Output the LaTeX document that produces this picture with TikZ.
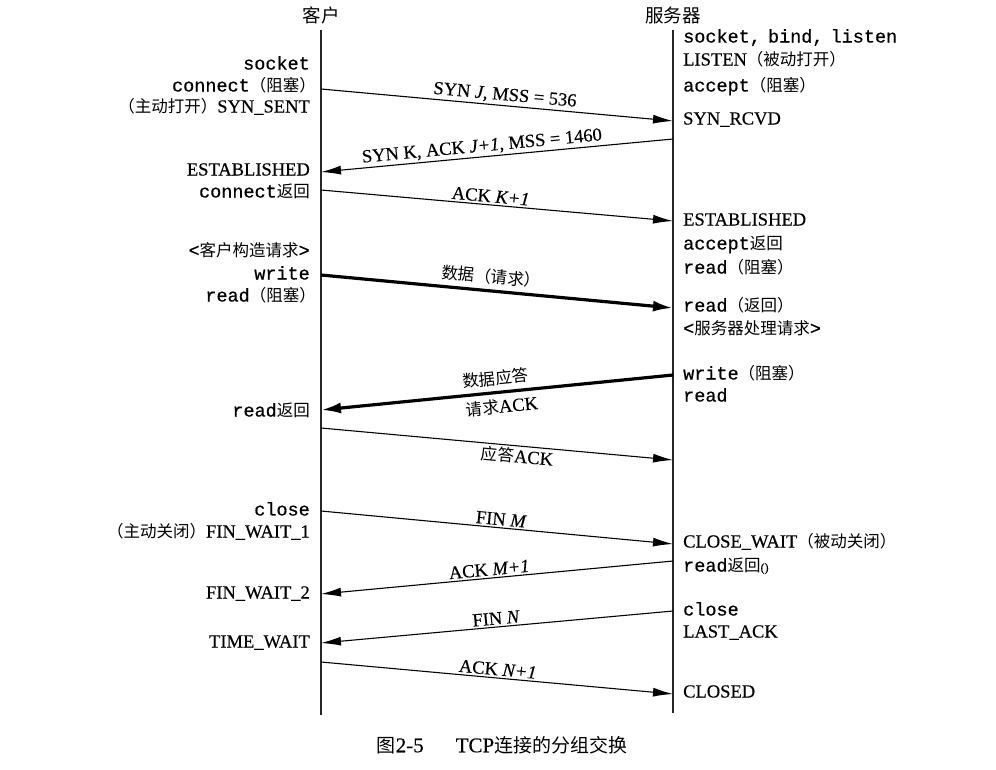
\documentclass[tikz,border=0pt]{standalone}
\usepackage{fontspec}
\setmainfont[FakeBold=0.4]{Liberation Serif}
\setmonofont[FakeBold=0.6]{Liberation Mono}
\newfontfamily\cjk{Noto Sans CJK SC}
\usetikzlibrary{arrows.meta}
\newcommand\zh[1]{{\cjk\fontsize{16.5}{20}\selectfont #1}}
\tikzset{
  lbl/.style={font=\fontsize{18.5}{22}\selectfont, inner sep=0pt, text height=13pt, text depth=4pt},
  cl/.style={lbl, anchor=east},
  sv/.style={lbl, anchor=west},
  msglbl/.style={font=\fontsize{18.5}{22}\selectfont, inner sep=2pt, sloped},
  msg/.style={line width=1.1pt, -{Latex[length=20pt,width=9pt]}},
  thickmsg/.style={line width=3.2pt, -{Latex[length=20pt,width=11pt]}},
  life/.style={line width=1.4pt, draw=black!85},
}
\begin{document}
\begin{tikzpicture}[x=1pt,y=-1pt]
\useasboundingbox (0,0) rectangle (996,769);
% headers
\node[lbl] (hc) at (321,18) {{\cjk\fontsize{18.5}{22}\selectfont 客户}};
\node[lbl] (hs) at (673,18) {{\cjk\fontsize{18.5}{22}\selectfont 服务器}};
% lifelines
\coordinate (ctop) at (321,30);
\coordinate (cbot) at (321,715);
\coordinate (stop) at (673,30);
\coordinate (sbot) at (673,713);
\draw[life] (ctop) -- (cbot);
\draw[life] (stop) -- (sbot);
% client labels
\node[cl] (l1) at (310,65) {\texttt{socket}};
\node[cl] (l2) at (316,87) {\texttt{connect}\zh{（阻塞）}};
\node[cl] (l3) at (310,108) {\zh{（主动打开）}SYN\_SENT};
\node[cl] (l4) at (310,171) {ESTABLISHED};
\node[cl] (l5) at (310,193) {\texttt{connect}\zh{返回}};
\node[cl] (l6) at (310,252) {\texttt{<}\zh{客户构造请求}\texttt{>}};
\node[cl] (l7) at (310,275) {\texttt{write}};
\node[cl] (l8) at (316,297) {\texttt{read}\zh{（阻塞）}};
\node[cl] (l9) at (310,412) {\texttt{read}\zh{返回}};
\node[cl] (l10) at (310,511) {\texttt{close}};
\node[cl] (l11) at (310,533) {\zh{（主动关闭）}FIN\_WAIT\_1};
\node[cl] (l12) at (310,594) {FIN\_WAIT\_2};
\node[cl] (l13) at (310,643) {TIME\_WAIT};
% server labels
\node[sv] (r1) at (683,38) {\texttt{socket,\hspace{-4pt} bind,\hspace{-4pt} listen}};
\node[sv] (r2) at (683,61) {LISTEN\zh{（被动打开）}};
\node[sv] (r3) at (683,87) {\texttt{accept}\zh{（阻塞）}};
\node[sv] (r4) at (683,120) {SYN\_RCVD};
\node[sv] (r5) at (683,221) {ESTABLISHED};
\node[sv] (r6) at (683,245) {\texttt{accept}\zh{返回}};
\node[sv] (r7) at (683,269) {\texttt{read}\zh{（阻塞）}};
\node[sv] (r8) at (683,307) {\texttt{read}\zh{（返回）}};
\node[sv] (r9) at (683,330) {\texttt{<}\zh{服务器处理请求}\texttt{>}};
\node[sv] (r10) at (683,375) {\texttt{write}\zh{（阻塞）}};
\node[sv] (r11) at (683,397) {\texttt{read}};
\node[sv] (r12) at (683,543) {CLOSE\_WAIT\zh{（被动关闭）}};
\node[sv] (r13) at (683,567) {\texttt{read}\zh{返回}{\fontsize{12}{14}\selectfont ()}};
\node[sv] (r14) at (683,611) {\texttt{close}};
\node[sv] (r15) at (683,633) {LAST\_ACK};
\node[sv] (r16) at (683,693) {CLOSED};
% endpoints
\coordinate (c1) at (321,89);  \coordinate (s1) at (673,121);
\coordinate (s2) at (673,139); \coordinate (c2) at (321,172);
\coordinate (c3) at (321,190); \coordinate (s3) at (673,221);
\coordinate (c4) at (321,275); \coordinate (s4) at (673,308);
\coordinate (s5) at (673,375); \coordinate (c5) at (321,410);
\coordinate (c6) at (321,428); \coordinate (s6) at (673,460);
\coordinate (c7) at (321,511); \coordinate (s7) at (673,544);
\coordinate (s8) at (673,561); \coordinate (c8) at (321,594);
\coordinate (s9) at (673,611); \coordinate (c9) at (321,643);
\coordinate (c10) at (321,662); \coordinate (s10) at (673,694);
% messages
\draw[msg] (c1) -- node[msglbl, above, pos=0.52] (m1) {SYN \textit{J}, MSS = 536} (s1);
\draw[msg] (s2) -- node[msglbl, above, pos=0.54] (m2) {SYN K, ACK \textit{J+1}, MSS = 1460} (c2);
\draw[msg] (c3) -- node[msglbl, above, pos=0.48] (m3) {ACK \textit{K+1}} (s3);
\draw[thickmsg] (c4) -- node[msglbl, above=3pt, pos=0.48] (m4) {\zh{数据（请求）}} (s4);
\draw[thickmsg] (s5) -- node[msglbl, above=3pt, pos=0.50] (m5a) {\zh{数据应答}}
                       node[msglbl, below=3pt, pos=0.49] (m5b) {\zh{请求}ACK} (c5);
\draw[msg] (c6) -- node[msglbl, below, pos=0.56] (m6) {\zh{应答}ACK} (s6);
\draw[msg] (c7) -- node[msglbl, above, pos=0.51] (m7) {FIN \textit{M}} (s7);
\draw[msg] (s8) -- node[msglbl, above, pos=0.52] (m8) {ACK \textit{M+1}} (c8);
\draw[msg] (s9) -- node[msglbl, above, pos=0.50] (m9) {FIN \textit{N}} (c9);
\draw[msg] (c10) -- node[msglbl, above, pos=0.50] (m10) {ACK \textit{N+1}} (s10);
% caption
\node[font=\fontsize{21}{24}\selectfont, inner sep=0pt] (cap) at (502,745)
  {{\cjk\fontsize{19}{22}\selectfont 图}2-5\hspace{32pt}TCP{\cjk\fontsize{19}{22}\selectfont 连接的分组交换}};
\end{tikzpicture}
\end{document}
